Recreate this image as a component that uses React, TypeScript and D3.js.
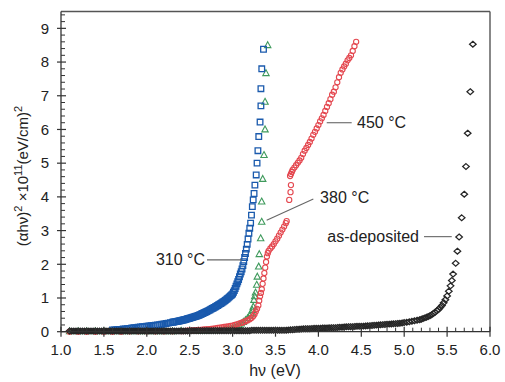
import React from "react";
import * as d3 from "d3";

// Tauc plot: (αhν)² versus photon energy for films annealed at different temperatures.
// Each series is a list of [hν (eV), (αhν)² ×10¹¹ (eV/cm)²] pairs.

const series310: [number, number][] = [
  [1.6, 0.05], [1.625, 0.055], [1.65, 0.06], [1.675, 0.065], [1.7, 0.07], [1.725, 0.078],
  [1.75, 0.085], [1.775, 0.092], [1.8, 0.1], [1.825, 0.108], [1.85, 0.115], [1.875, 0.122],
  [1.9, 0.13], [1.925, 0.138], [1.95, 0.145], [1.975, 0.152], [2.0, 0.16], [2.025, 0.168],
  [2.05, 0.175], [2.075, 0.182], [2.1, 0.19], [2.125, 0.2], [2.15, 0.21], [2.175, 0.22],
  [2.2, 0.23], [2.225, 0.242], [2.25, 0.255], [2.275, 0.268],
  [2.3, 0.28], [2.3125, 0.286], [2.325, 0.292], [2.3375, 0.299], [2.35, 0.305], [2.3625, 0.311],
  [2.375, 0.317], [2.3875, 0.324], [2.4, 0.33], [2.4125, 0.338], [2.425, 0.346], [2.4375, 0.355],
  [2.45, 0.364], [2.4625, 0.373], [2.475, 0.382], [2.4875, 0.391], [2.5, 0.4], [2.5125, 0.41],
  [2.525, 0.42], [2.5375, 0.43], [2.55, 0.44], [2.5625, 0.45], [2.575, 0.46], [2.5875, 0.47],
  [2.6, 0.48], [2.6125, 0.494], [2.625, 0.508], [2.6375, 0.523], [2.65, 0.538], [2.6625, 0.553],
  [2.675, 0.568], [2.6875, 0.584], [2.7, 0.6], [2.7125, 0.617], [2.725, 0.634], [2.7375, 0.652],
  [2.75, 0.67], [2.7625, 0.687], [2.775, 0.704], [2.7875, 0.722], [2.8, 0.74], [2.8125, 0.759],
  [2.825, 0.778], [2.8375, 0.798], [2.85, 0.818], [2.8625, 0.838], [2.875, 0.858], [2.8875, 0.879],
  [2.9, 0.9], [2.9125, 0.925], [2.925, 0.951], [2.9375, 0.978], [2.95, 1.005], [2.9625, 1.033],
  [2.975, 1.062], [2.9875, 1.091], [3.0, 1.12], [3.01, 1.17], [3.02, 1.22], [3.03, 1.28],
  [3.04, 1.35], [3.05, 1.42], [3.06, 1.48], [3.07, 1.55], [3.08, 1.63], [3.09, 1.71],
  [3.1, 1.78], [3.11, 1.86], [3.12, 1.96], [3.13, 2.08], [3.14, 2.2], [3.15, 2.32],
  [3.16, 2.45], [3.17, 2.59], [3.18, 2.75], [3.19, 2.92], [3.2, 3.07], [3.21, 3.22],
  [3.22, 3.46], [3.23, 3.71], [3.24, 3.91], [3.25, 4.1], [3.26, 4.35], [3.275, 4.65],
  [3.285, 5.0], [3.295, 5.37], [3.305, 5.79], [3.32, 6.22], [3.33, 6.7], [3.33, 7.21],
  [3.34, 7.8], [3.36, 8.38],
];

const series380: [number, number][] = [
  [1.1, 0.01], [1.2, 0.01], [1.3, 0.01], [1.4, 0.01], [1.5, 0.01], [1.6, 0.01], [1.7, 0.01],
  [1.8, 0.01], [1.9, 0.01], [2.0, 0.01], [2.1, 0.01], [2.2, 0.01], [2.3, 0.01], [2.4, 0.02],
  [2.5, 0.02], [2.6, 0.02], [2.7, 0.03], [2.8, 0.04], [2.85, 0.05], [2.9, 0.07], [2.925, 0.08],
  [2.95, 0.09], [2.975, 0.1], [3.0, 0.12], [3.025, 0.14], [3.05, 0.17], [3.075, 0.2],
  [3.1, 0.24], [3.125, 0.29], [3.15, 0.34], [3.175, 0.4], [3.2, 0.47], [3.215, 0.55],
  [3.23, 0.64], [3.241, 0.74], [3.249, 0.94], [3.258, 1.05], [3.267, 1.16], [3.281, 1.39],
  [3.288, 1.63], [3.304, 1.93], [3.311, 2.3], [3.327, 2.77], [3.339, 3.26], [3.339, 3.86],
  [3.351, 4.53], [3.366, 5.24], [3.378, 6.0], [3.378, 6.82], [3.389, 7.67], [3.409, 8.5],
];

const series450: [number, number][] = [
  [1.1, 0.0], [1.2, 0.0], [1.3, 0.0], [1.4, 0.0], [1.5, 0.0], [1.6, 0.0], [1.7, 0.0],
  [1.8, 0.01], [1.9, 0.01], [2.0, 0.01], [2.1, 0.01], [2.2, 0.01], [2.3, 0.015],
  [2.4, 0.02], [2.425, 0.02], [2.45, 0.025], [2.475, 0.03], [2.5, 0.03], [2.525, 0.035],
  [2.55, 0.04], [2.575, 0.045], [2.6, 0.05], [2.625, 0.055], [2.65, 0.06], [2.675, 0.065],
  [2.7, 0.07], [2.725, 0.075], [2.75, 0.08], [2.775, 0.09], [2.8, 0.1], [2.825, 0.11],
  [2.85, 0.12], [2.875, 0.13], [2.9, 0.14], [2.925, 0.15], [2.95, 0.16], [2.975, 0.17],
  [3.0, 0.18], [3.025, 0.2], [3.05, 0.22], [3.075, 0.24], [3.1, 0.26], [3.125, 0.28],
  [3.15, 0.31], [3.175, 0.34], [3.2, 0.37], [3.22, 0.41], [3.24, 0.46], [3.255, 0.52],
  [3.27, 0.6], [3.285, 0.68], [3.3, 0.78], [3.31, 0.92], [3.32, 1.05], [3.33, 1.15],
  [3.34, 1.26], [3.35, 1.42], [3.36, 1.58], [3.37, 1.74], [3.38, 1.9], [3.39, 2.07],
  [3.4, 2.23], [3.41, 2.33], [3.42, 2.4], [3.44, 2.47], [3.46, 2.53], [3.48, 2.6],
  [3.5, 2.68], [3.52, 2.76], [3.54, 2.85], [3.56, 2.94], [3.58, 3.03], [3.6, 3.12],
  [3.62, 3.22], [3.63, 3.28], [3.66, 3.91], [3.675, 4.14], [3.68, 4.35], [3.67, 4.62],
  [3.68, 4.68], [3.69, 4.74], [3.7, 4.8], [3.72, 4.87], [3.74, 4.94], [3.76, 5.01],
  [3.78, 5.08], [3.8, 5.16], [3.82, 5.27], [3.84, 5.37], [3.86, 5.45], [3.88, 5.54],
  [3.9, 5.63], [3.92, 5.73], [3.94, 5.84], [3.96, 5.93], [3.98, 6.03], [4.0, 6.13],
  [4.02, 6.24], [4.04, 6.33], [4.06, 6.43], [4.08, 6.55], [4.1, 6.67], [4.12, 6.78],
  [4.14, 6.9], [4.16, 7.03], [4.18, 7.12], [4.2, 7.25], [4.22, 7.4], [4.24, 7.55],
  [4.26, 7.68], [4.28, 7.78], [4.3, 7.87], [4.32, 7.95], [4.34, 8.05], [4.36, 8.12],
  [4.38, 8.2], [4.4, 8.33], [4.42, 8.47], [4.44, 8.6],
];

const seriesAsDeposited: [number, number][] = [
  [1.1, 0.02], [1.125, 0.02], [1.15, 0.02], [1.175, 0.02], [1.2, 0.02], [1.225, 0.02],
  [1.25, 0.02], [1.275, 0.02], [1.3, 0.02], [1.325, 0.02], [1.35, 0.02], [1.375, 0.02],
  [1.4, 0.02], [1.425, 0.02], [1.45, 0.02], [1.475, 0.02], [1.5, 0.02], [1.525, 0.02],
  [1.55, 0.02], [1.575, 0.02], [1.6, 0.02], [1.625, 0.02], [1.65, 0.02], [1.675, 0.02],
  [1.7, 0.02], [1.725, 0.02], [1.75, 0.02], [1.775, 0.02], [1.8, 0.02], [1.825, 0.02],
  [1.85, 0.02], [1.875, 0.02], [1.9, 0.02], [1.925, 0.02], [1.95, 0.02], [1.975, 0.02],
  [2.0, 0.02], [2.025, 0.02], [2.05, 0.02], [2.075, 0.02], [2.1, 0.02], [2.125, 0.02],
  [2.15, 0.02], [2.175, 0.02], [2.2, 0.02], [2.225, 0.02], [2.25, 0.02], [2.275, 0.02],
  [2.3, 0.02], [2.325, 0.02], [2.35, 0.02], [2.375, 0.02], [2.4, 0.02], [2.425, 0.02],
  [2.45, 0.02], [2.475, 0.02], [2.5, 0.02], [2.525, 0.03], [2.55, 0.03], [2.575, 0.03],
  [2.6, 0.03], [2.625, 0.03], [2.65, 0.03], [2.675, 0.03], [2.7, 0.03], [2.725, 0.03],
  [2.75, 0.03], [2.775, 0.03], [2.8, 0.03], [2.825, 0.03], [2.85, 0.03], [2.875, 0.03],
  [2.9, 0.03], [2.925, 0.03], [2.95, 0.03], [2.975, 0.03], [3.0, 0.03], [3.025, 0.03],
  [3.05, 0.03], [3.075, 0.03], [3.1, 0.03], [3.125, 0.03], [3.15, 0.03], [3.175, 0.03],
  [3.2, 0.03], [3.225, 0.04], [3.25, 0.04], [3.275, 0.04], [3.3, 0.04], [3.325, 0.04],
  [3.35, 0.04], [3.375, 0.04], [3.4, 0.04], [3.425, 0.04], [3.45, 0.04], [3.475, 0.04],
  [3.5, 0.04], [3.525, 0.04], [3.55, 0.04], [3.575, 0.04], [3.6, 0.04], [3.625, 0.045],
  [3.65, 0.05], [3.675, 0.055], [3.7, 0.06], [3.725, 0.065], [3.75, 0.07], [3.775, 0.075],
  [3.8, 0.08], [3.825, 0.085], [3.85, 0.09], [3.875, 0.09], [3.9, 0.09], [3.925, 0.095],
  [3.95, 0.1], [3.975, 0.1], [4.0, 0.1], [4.025, 0.105], [4.05, 0.11], [4.075, 0.11],
  [4.1, 0.11], [4.125, 0.115], [4.15, 0.12], [4.175, 0.12], [4.2, 0.12], [4.225, 0.125],
  [4.25, 0.13], [4.275, 0.135], [4.3, 0.14], [4.325, 0.145], [4.35, 0.15], [4.375, 0.15],
  [4.4, 0.15], [4.425, 0.155], [4.45, 0.16], [4.475, 0.16], [4.5, 0.16], [4.525, 0.165],
  [4.55, 0.17], [4.575, 0.175], [4.6, 0.18], [4.625, 0.185], [4.65, 0.19], [4.675, 0.195],
  [4.7, 0.2], [4.725, 0.205], [4.75, 0.21], [4.775, 0.215], [4.8, 0.22], [4.825, 0.225],
  [4.85, 0.23], [4.875, 0.235], [4.9, 0.24], [4.925, 0.245], [4.95, 0.25], [4.975, 0.26],
  [5.0, 0.27], [5.03, 0.28], [5.06, 0.295], [5.09, 0.31], [5.12, 0.325], [5.15, 0.34],
  [5.18, 0.355], [5.2, 0.37], [5.22, 0.39], [5.24, 0.41], [5.26, 0.43], [5.28, 0.45],
  [5.3, 0.475], [5.32, 0.5], [5.34, 0.54], [5.36, 0.58], [5.38, 0.62], [5.4, 0.66],
  [5.42, 0.72], [5.44, 0.78], [5.46, 0.86], [5.48, 0.95], [5.5, 1.06], [5.52, 1.2],
  [5.54, 1.36], [5.555, 1.52], [5.57, 1.71], [5.6, 2.03], [5.62, 2.39], [5.64, 2.81],
  [5.67, 3.38], [5.7, 4.08], [5.72, 4.9], [5.74, 5.89], [5.77, 7.12], [5.8, 8.53],
];

const xTickValues = [1.0, 1.5, 2.0, 2.5, 3.0, 3.5, 4.0, 4.5, 5.0, 5.5, 6.0];
const yTickValues = [0, 1, 2, 3, 4, 5, 6, 7, 8, 9];

// Annotation leader lines in data units: [x1, y1, x2, y2], label anchor [x, y]
const labels = [
  { text: "450 °C", line: [4.097, 6.2, 4.388, 6.2], at: [4.45, 6.2], anchor: "start" },
  { text: "380 °C", line: [3.397, 3.31, 3.941, 3.94], at: [4.02, 3.97], anchor: "start" },
  { text: "310 °C", line: [2.702, 2.13, 3.106, 2.13], at: [2.678, 2.13], anchor: "end" },
  { text: "as-deposited", line: [5.231, 2.82, 5.554, 2.82], at: [5.172, 2.82], anchor: "end" },
];

const W = 505;
const H = 382;
const FONT = "'Liberation Sans', Arial, Helvetica, sans-serif";

export default function App() {
  const x = d3.scaleLinear().domain([1, 6]).range([61, 490]);
  const y = d3.scaleLinear().domain([0, 9.5]).range([331.7, 11.5]);
  const [x0, x1] = x.range();
  const [y0, y1] = y.range();

  const xMinor = d3.range(10, 61).map((v) => v / 10).filter((v) => Math.abs(v * 2 - Math.round(v * 2)) > 1e-6);
  const yMinor = d3.range(0, 48).map((v) => v / 5).filter((v) => v <= 9.4 && Math.abs(v - Math.round(v)) > 1e-6);

  const square = (px: number, py: number) => {
    const s = 2.8;
    return `M${px - s},${py - s}h${2 * s}v${2 * s}h${-2 * s}Z`;
  };
  const triangle = (px: number, py: number) => {
    const s = 3.2;
    return `M${px},${py - s * 1.1}L${px + s},${py + s * 0.75}L${px - s},${py + s * 0.75}Z`;
  };
  const diamond = (px: number, py: number) => {
    const w = 3.3;
    const h = 2.9;
    return `M${px},${py - h}L${px + w},${py}L${px},${py + h}L${px - w},${py}Z`;
  };

  const axisColor = "#333";

  return (
    <svg
      width={W}
      height={H}
      style={{ position: "absolute", left: 0, top: 0, background: "#fff" }}
      fontFamily={FONT}
    >
      <rect width={W} height={H} fill="#fff" />

      {/* frame */}
      <line x1={x0} x2={x1} y1={y1} y2={y1} stroke="#555" strokeWidth={1.4} />
      <line x1={x1} x2={x1} y1={y1} y2={y0} stroke="#555" strokeWidth={1.4} />

      {/* data: 380, 450, 310, as-deposited */}
      <g fill="none" stroke="#3f9a5c" strokeWidth={1.1}>
        {series380.map(([e, v], i) => (
          <path key={i} d={triangle(x(e), y(v))} />
        ))}
      </g>
      <g fill="none" stroke="#e4474f" strokeWidth={1.1}>
        {series450.map(([e, v], i) => (
          <circle key={i} cx={x(e)} cy={y(v)} r={2.6} />
        ))}
      </g>
      <g fill="none" stroke="#1a5aad" strokeWidth={1.3}>
        {series310.map(([e, v], i) => (
          <path key={i} d={square(x(e), y(v))} />
        ))}
      </g>
      <g fill="none" stroke="#262626" strokeWidth={1.25}>
        {seriesAsDeposited.map(([e, v], i) => (
          <path key={i} d={diamond(x(e), y(v))} />
        ))}
      </g>

      {/* axes */}
      <line x1={x0} x2={x1} y1={y0} y2={y0} stroke={axisColor} strokeWidth={1.3} />
      <line x1={x0} x2={x0} y1={y0} y2={y1} stroke={axisColor} strokeWidth={1.3} />
      {xTickValues.map((t) => (
        <g key={t}>
          <line x1={x(t)} x2={x(t)} y1={y0 - 5} y2={y0 + 5} stroke={axisColor} strokeWidth={1.2} />
          <text x={x(t)} y={355} textAnchor="middle" fontSize={15} fill="#222">
            {t.toFixed(1)}
          </text>
        </g>
      ))}
      {xMinor.map((t) => (
        <line key={t} x1={x(t)} x2={x(t)} y1={y0 - 4} y2={y0} stroke={axisColor} strokeWidth={1} />
      ))}
      {yTickValues.map((t) => (
        <g key={t}>
          <line x1={x0 - 4} x2={x0 + 5} y1={y(t)} y2={y(t)} stroke={axisColor} strokeWidth={1.2} />
          <text x={49} y={y(t) + 5.3} textAnchor="end" fontSize={15} fill="#222">
            {t}
          </text>
        </g>
      ))}
      {yMinor.map((t) => (
        <line key={t} x1={x0} x2={x0 + 4} y1={y(t)} y2={y(t)} stroke={axisColor} strokeWidth={1} />
      ))}

      {/* axis titles */}
      <text x={275} y={376} textAnchor="middle" fontSize={16} fill="#222">
        hν (eV)
      </text>
      <text transform="translate(28,176) rotate(-90)" textAnchor="middle" fontSize={15} fill="#222">
        (αhν)
        <tspan dy={-6} fontSize={11}>2</tspan>
        <tspan dy={6}> ×10</tspan>
        <tspan dy={-6} fontSize={11}>11</tspan>
        <tspan dy={6}>(eV/cm)</tspan>
        <tspan dy={-6} fontSize={11}>2</tspan>
      </text>

      {/* annotations */}
      {labels.map((l) => (
        <g key={l.text}>
          <line
            x1={x(l.line[0])}
            y1={y(l.line[1])}
            x2={x(l.line[2])}
            y2={y(l.line[3])}
            stroke="#666"
            strokeWidth={1.1}
          />
          <text
            x={x(l.at[0])}
            y={y(l.at[1]) + 5.5}
            textAnchor={l.anchor as "start" | "end"}
            fontSize={16}
            fill="#222"
          >
            {l.text}
          </text>
        </g>
      ))}
    </svg>
  );
}
